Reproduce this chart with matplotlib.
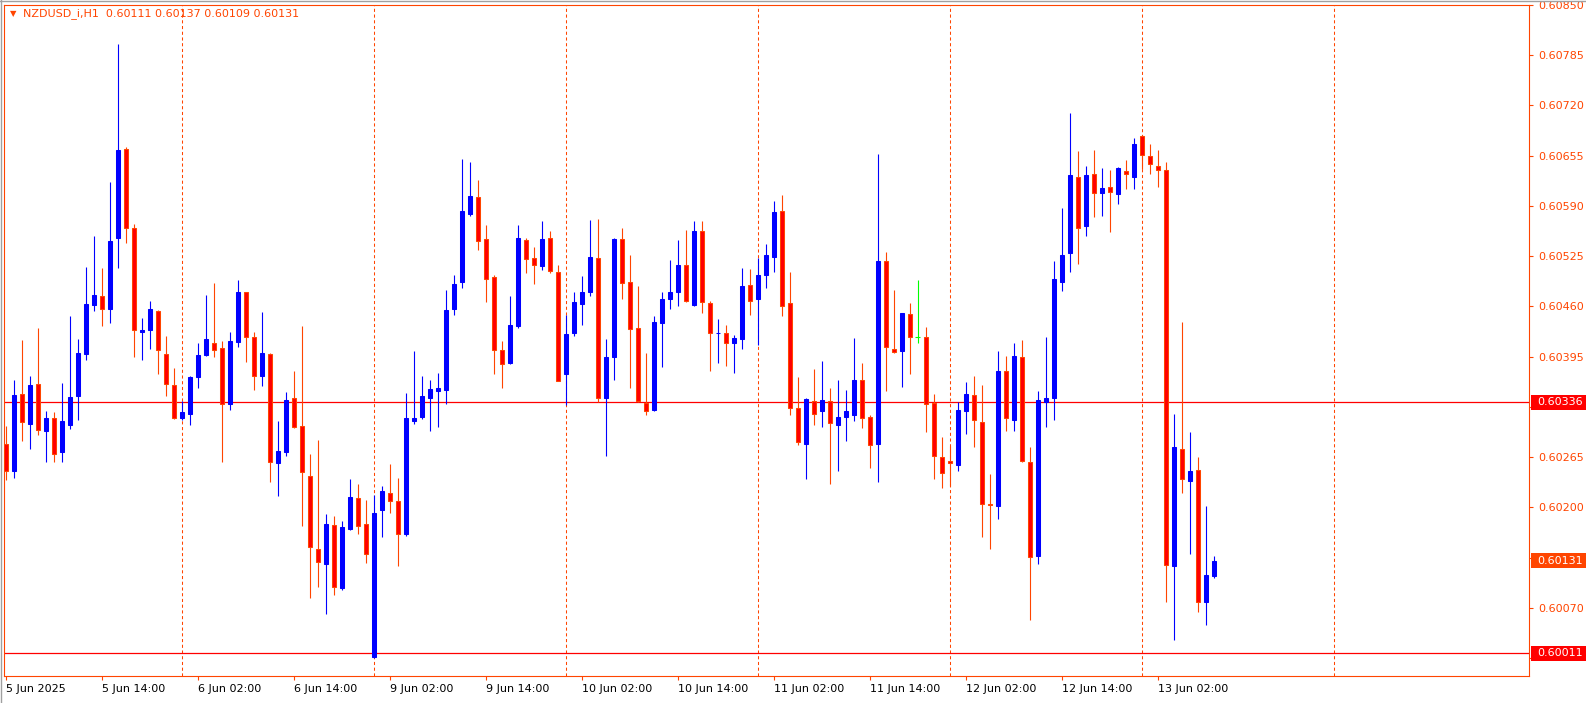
import numpy as np
import pandas as pd
import matplotlib
matplotlib.use("Agg")
import matplotlib.pyplot as plt
import matplotlib.transforms as mtransforms
from matplotlib.patches import Rectangle
from matplotlib.lines import Line2D

symbol = "NZDUSD_i,H1"

# hourly bars 5 Jun 02:00 .. 13 Jun 09:00 (weekend skipped)
times = pd.date_range("2025-06-05 02:00", "2025-06-13 09:00", freq="h")
times = times[times.dayofweek < 5]

opens = [0.60282, 0.60247, 0.60347, 0.60308, 0.60360, 0.60299, 0.60316, 0.60271, 0.60307, 0.60344,
         0.60399, 0.60462, 0.60474, 0.60456, 0.60548, 0.60664, 0.60561, 0.60427, 0.60429, 0.60454,
         0.60399, 0.60358, 0.60315, 0.60321, 0.60369, 0.60397, 0.60412, 0.60406, 0.60334, 0.60414,
         0.60478, 0.60421, 0.60370, 0.60399, 0.60257, 0.60272, 0.60341, 0.60305, 0.60240, 0.60146,
         0.60127, 0.60177, 0.60096, 0.60172, 0.60212, 0.60179, 0.60006, 0.60196, 0.60218, 0.60208,
         0.60166, 0.60312, 0.60317, 0.60342, 0.60351, 0.60352, 0.60456, 0.60491, 0.60580, 0.60602,
         0.60547, 0.60498, 0.60403, 0.60387, 0.60435, 0.60546, 0.60522, 0.60512, 0.60548, 0.60505,
         0.60373, 0.60426, 0.60463, 0.60479, 0.60523, 0.60342, 0.60395, 0.60547, 0.60491, 0.60432,
         0.60335, 0.60326, 0.60439, 0.60469, 0.60479, 0.60513, 0.60462, 0.60558, 0.60464, 0.60425,
         0.60425, 0.60412, 0.60418, 0.60487, 0.60469, 0.60500, 0.60524, 0.60583, 0.60464, 0.60328,
         0.60282, 0.60338, 0.60324, 0.60338, 0.60307, 0.60317, 0.60320, 0.60365, 0.60317, 0.60282,
         0.60519, 0.60405, 0.60402, 0.60450, 0.60421, 0.60420, 0.60335, 0.60265, 0.60260, 0.60255,
         0.60325, 0.60345, 0.60310, 0.60204, 0.60202, 0.60377, 0.60313, 0.60394, 0.60259, 0.60137,
         0.60336, 0.60341, 0.60492, 0.60529, 0.60628, 0.60564, 0.60631, 0.60607, 0.60615, 0.60605,
         0.60635, 0.60627, 0.60681, 0.60654, 0.60641, 0.60636, 0.60124, 0.60276, 0.60234, 0.60248,
         0.60077, 0.60111]
highs = [0.60305, 0.60365, 0.60417, 0.60370, 0.60432, 0.60325, 0.60323, 0.60361, 0.60447, 0.60418,
         0.60511, 0.60551, 0.60509, 0.60621, 0.60800, 0.60666, 0.60566, 0.60445, 0.60467, 0.60455,
         0.60422, 0.60380, 0.60338, 0.60370, 0.60413, 0.60475, 0.60490, 0.60415, 0.60427, 0.60494,
         0.60479, 0.60427, 0.60453, 0.60400, 0.60312, 0.60349, 0.60376, 0.60435, 0.60269, 0.60287,
         0.60191, 0.60189, 0.60182, 0.60237, 0.60230, 0.60210, 0.60216, 0.60228, 0.60256, 0.60238,
         0.60348, 0.60402, 0.60370, 0.60365, 0.60374, 0.60481, 0.60501, 0.60651, 0.60647, 0.60624,
         0.60565, 0.60501, 0.60415, 0.60474, 0.60565, 0.60548, 0.60537, 0.60571, 0.60558, 0.60514,
         0.60449, 0.60479, 0.60499, 0.60572, 0.60573, 0.60418, 0.60548, 0.60561, 0.60526, 0.60486,
         0.60400, 0.60448, 0.60479, 0.60520, 0.60546, 0.60559, 0.60571, 0.60571, 0.60467, 0.60444,
         0.60436, 0.60423, 0.60510, 0.60508, 0.60522, 0.60541, 0.60596, 0.60604, 0.60505, 0.60369,
         0.60341, 0.60379, 0.60389, 0.60354, 0.60365, 0.60352, 0.60419, 0.60387, 0.60319, 0.60657,
         0.60530, 0.60481, 0.60452, 0.60464, 0.60494, 0.60433, 0.60347, 0.60291, 0.60279, 0.60336,
         0.60362, 0.60370, 0.60358, 0.60243, 0.60402, 0.60396, 0.60413, 0.60416, 0.60278, 0.60350,
         0.60420, 0.60519, 0.60587, 0.60710, 0.60661, 0.60642, 0.60662, 0.60639, 0.60636, 0.60640,
         0.60649, 0.60678, 0.60682, 0.60670, 0.60662, 0.60647, 0.60321, 0.60440, 0.60297, 0.60265,
         0.60202, 0.60137]
lows = [0.60235, 0.60238, 0.60286, 0.60276, 0.60294, 0.60259, 0.60259, 0.60259, 0.60301, 0.60313,
        0.60391, 0.60454, 0.60435, 0.60438, 0.60509, 0.60542, 0.60394, 0.60390, 0.60405, 0.60373,
        0.60344, 0.60314, 0.60313, 0.60307, 0.60355, 0.60396, 0.60394, 0.60259, 0.60326, 0.60407,
        0.60388, 0.60352, 0.60357, 0.60233, 0.60214, 0.60266, 0.60303, 0.60176, 0.60083, 0.60097,
        0.60062, 0.60086, 0.60093, 0.60171, 0.60165, 0.60128, 0.60005, 0.60162, 0.60192, 0.60124,
        0.60163, 0.60308, 0.60314, 0.60299, 0.60304, 0.60334, 0.60449, 0.60484, 0.60577, 0.60533,
        0.60465, 0.60372, 0.60355, 0.60386, 0.60432, 0.60503, 0.60489, 0.60507, 0.60503, 0.60363,
        0.60333, 0.60422, 0.60436, 0.60473, 0.60336, 0.60266, 0.60365, 0.60470, 0.60355, 0.60336,
        0.60320, 0.60325, 0.60382, 0.60457, 0.60460, 0.60466, 0.60460, 0.60452, 0.60377, 0.60387,
        0.60383, 0.60374, 0.60405, 0.60449, 0.60410, 0.60484, 0.60504, 0.60447, 0.60319, 0.60280,
        0.60237, 0.60306, 0.60304, 0.60230, 0.60247, 0.60286, 0.60312, 0.60302, 0.60251, 0.60233,
        0.60351, 0.60400, 0.60356, 0.60373, 0.60413, 0.60298, 0.60236, 0.60225, 0.60228, 0.60247,
        0.60295, 0.60278, 0.60162, 0.60146, 0.60185, 0.60299, 0.60299, 0.60259, 0.60054, 0.60127,
        0.60304, 0.60313, 0.60480, 0.60504, 0.60515, 0.60551, 0.60575, 0.60577, 0.60556, 0.60592,
        0.60612, 0.60612, 0.60638, 0.60631, 0.60614, 0.60078, 0.60028, 0.60219, 0.60140, 0.60065,
        0.60048, 0.60109]
closes = [0.60247, 0.60345, 0.60310, 0.60358, 0.60300, 0.60316, 0.60269, 0.60312, 0.60343, 0.60400,
          0.60463, 0.60475, 0.60457, 0.60545, 0.60662, 0.60561, 0.60429, 0.60430, 0.60457, 0.60403,
          0.60359, 0.60315, 0.60323, 0.60369, 0.60397, 0.60418, 0.60404, 0.60334, 0.60415, 0.60479,
          0.60420, 0.60370, 0.60400, 0.60258, 0.60273, 0.60339, 0.60304, 0.60246, 0.60149, 0.60129,
          0.60179, 0.60097, 0.60174, 0.60213, 0.60176, 0.60140, 0.60193, 0.60221, 0.60208, 0.60165,
          0.60315, 0.60316, 0.60344, 0.60353, 0.60354, 0.60455, 0.60489, 0.60583, 0.60603, 0.60545,
          0.60496, 0.60404, 0.60386, 0.60436, 0.60549, 0.60521, 0.60513, 0.60547, 0.60506, 0.60364,
          0.60424, 0.60466, 0.60479, 0.60524, 0.60342, 0.60395, 0.60547, 0.60490, 0.60431, 0.60337,
          0.60325, 0.60440, 0.60470, 0.60479, 0.60514, 0.60467, 0.60558, 0.60465, 0.60425, 0.60426,
          0.60412, 0.60419, 0.60486, 0.60467, 0.60501, 0.60527, 0.60582, 0.60461, 0.60329, 0.60284,
          0.60340, 0.60321, 0.60339, 0.60309, 0.60317, 0.60325, 0.60365, 0.60316, 0.60281, 0.60519,
          0.60408, 0.60401, 0.60451, 0.60421, 0.60421, 0.60334, 0.60266, 0.60245, 0.60257, 0.60326,
          0.60347, 0.60313, 0.60204, 0.60203, 0.60376, 0.60316, 0.60396, 0.60260, 0.60136, 0.60339,
          0.60342, 0.60495, 0.60526, 0.60630, 0.60561, 0.60630, 0.60607, 0.60613, 0.60608, 0.60639,
          0.60631, 0.60670, 0.60656, 0.60644, 0.60637, 0.60125, 0.60278, 0.60236, 0.60247, 0.60077,
          0.60113, 0.60131]

level_lines = [0.60336, 0.60011]
bid = closes[-1]

FG = "#FF4500"
BULL = "#0000FF"
BEAR = "#FF0000"
DOJI = "#00FF00"

W, H = 1586, 703
fig = plt.figure(figsize=(W / 100, H / 100), dpi=100)
fig.patch.set_facecolor("white")
ax = fig.add_axes([4 / W, 1 - 676 / H, 1525 / W, 671.5 / H])

o = np.array(opens)
h = np.array(highs)
l = np.array(lows)
c = np.array(closes)
x = np.arange(len(o))

up = c > o
dn = c < o
eq = c == o

# wicks
wick_col = np.where(up, BULL, np.where(dn, FG, DOJI))
ax.vlines(x, l, h, colors=wick_col, lw=0.8, zorder=3)

# bodies
ax.bar(x[up], c[up] - o[up], bottom=o[up], width=0.5,
       color=BULL, edgecolor=BULL, lw=0.75, zorder=4)
ax.bar(x[dn], o[dn] - c[dn], bottom=c[dn], width=0.5,
       color=BEAR, edgecolor=FG, lw=0.75, zorder=4)
ax.hlines(o[eq], x[eq] - 0.3, x[eq] + 0.3, colors=DOJI, lw=0.8, zorder=4)

# day separators (midnight bars, plus the next one to come)
seps = list(np.where(times.hour == 0)[0])
seps.append(seps[-1] + 24)
for s in seps:
    ax.axvline(s, color=FG, lw=0.75, ls=(0, (3, 2.5)), zorder=1)

for lv in level_lines:
    ax.axhline(lv, color="#FF0000", lw=0.9, zorder=2)

ax.set_xlim(-0.21, -0.21 + 1525 / 8)
ax.set_ylim(0.599817, 0.608506)

# price scale on the right (labels hidden where a marker box sits)
marked = level_lines + [bid]
yt = np.round(np.arange(0.60005, 0.608501, 0.00065), 5)
ax.yaxis.tick_right()
ax.set_yticks(yt)
ax.set_yticklabels(["" if min(abs(v - m) for m in marked) < 0.00008 else f"{v:.5f}"
                    for v in yt])
ax.tick_params(axis="y", colors=FG, labelsize=8, length=3, width=0.8, pad=4)

# time scale
xt = np.arange(0, len(times), 12)
xl = []
for i in xt:
    t = times[i]
    xl.append(f"{t.day} {t:%b %Y}" if i == 0 else f"{t.day} {t:%b %H:%M}")
ax.set_xticks(xt)
ax.set_xticklabels(xl, ha="left")
ax.tick_params(axis="x", colors=FG, labelcolor="black", labelsize=8,
               length=3, width=0.8, pad=3)

for sp in ax.spines.values():
    sp.set_color(FG)
    sp.set_linewidth(0.8)

# highlighted price labels
tr = mtransforms.blended_transform_factory(fig.transFigure, ax.transData)
for val, col in [(level_lines[0], "#FF0000"), (bid, FG), (level_lines[1], "#FF0000")]:
    fig.patches.append(Rectangle((1531 / W, val - 0.000097), 1 - 1531 / W, 0.000194,
                                 transform=tr, fc=col, ec="none", zorder=10))
    fig.text(1537 / W, val, f"{val:.5f}", transform=tr, color="white",
             fontsize=8, va="center", ha="left", zorder=11)

# header
fig.text(10 / W, 1 - 14 / H, "\u25bc", color=FG, fontsize=6, va="center")
fig.text(23 / W, 1 - 14 / H,
         f"{symbol}  {opens[-1]:.5f} {highs[-1]:.5f} {lows[-1]:.5f} {closes[-1]:.5f}",
         color=FG, fontsize=8, va="center")

# window border
fig.lines.append(Line2D([0, 1], [1 - 0.5 / H, 1 - 0.5 / H], transform=fig.transFigure,
                        color="#A0A0A0", lw=1))
fig.lines.append(Line2D([0.5 / W, 0.5 / W], [0, 1], transform=fig.transFigure,
                        color="#A0A0A0", lw=1))

fig.savefig("out.png", dpi=100)
